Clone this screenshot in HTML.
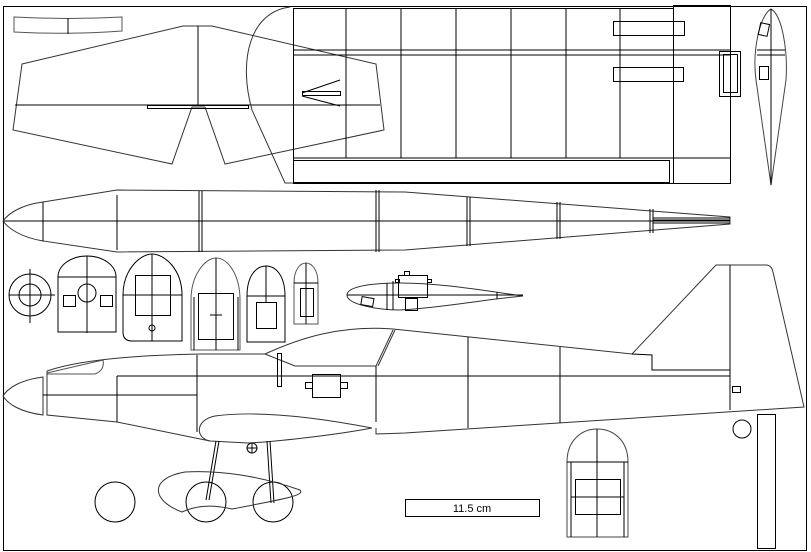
<!DOCTYPE html>
<html><head><meta charset="utf-8"><style>html,body{margin:0;padding:0;background:#fff}svg{display:block}</style></head><body>
<svg width="811" height="552" viewBox="0 0 811 552" xmlns="http://www.w3.org/2000/svg" fill="none" stroke="#000" stroke-width="1">
<rect x="3.5" y="6.5" width="803" height="544"/>
<!-- small top-left -->
<path d="M14,17 Q68,20 122,17 L122,31 Q68,35 14,32 Z" stroke="#555"/>
<line x1="68" y1="18" x2="68" y2="34"/>
<!-- wing -->
<path d="M22,64 L183,26 L212,26 L376,64 L384,130 L225,164 L205,107 L192,107 L172,164 L13,130 Z" stroke="#333"/>
<line x1="198" y1="26" x2="198" y2="106"/>
<line x1="15" y1="105" x2="380" y2="105"/>
<rect x="147.5" y="105.5" width="101" height="3"/>
<!-- big curve -->
<path d="M290,7 C250,12 238,60 252,110 L285,183 L293,183" stroke="#333"/>
<!-- panel -->
<rect x="293.5" y="8.5" width="380" height="175"/>
<rect x="673.5" y="5.5" width="57" height="178"/>
<line x1="293" y1="50" x2="730" y2="50"/><line x1="293" y1="55" x2="730" y2="55"/>
<line x1="293" y1="158" x2="730" y2="158"/>
<rect x="293.5" y="160.5" width="376" height="22"/>
<g><line x1="346" y1="8" x2="346" y2="158"/><line x1="401" y1="8" x2="401" y2="158"/><line x1="456" y1="8" x2="456" y2="158"/><line x1="511" y1="8" x2="511" y2="158"/><line x1="566" y1="8" x2="566" y2="158"/><line x1="620" y1="8" x2="620" y2="158"/></g>
<rect x="613.5" y="21.5" width="71" height="14"/><rect x="613.5" y="67.5" width="70" height="14"/>
<rect x="719.5" y="51.5" width="21" height="45"/><rect x="723.5" y="54.5" width="14" height="38"/>
<path d="M302,93 L340,80 M302,96 L340,106"/><rect x="302.5" y="91.5" width="38" height="4"/>
<!-- vertical airfoil -->
<path d="M771,9 C760,15 752,50 756,80 L771,185 L786,80 C788,50 782,15 771,9 Z" stroke="#444"/>
<line x1="771" y1="9" x2="771" y2="185"/>
<line x1="757" y1="50" x2="785" y2="50"/><line x1="757" y1="55" x2="785" y2="55"/>
<rect x="759.5" y="23.5" width="9" height="12" transform="rotate(12 764 29)"/>
<rect x="759.5" y="66.5" width="9" height="13"/>
<!-- top fuselage -->
<path d="M43,202 C20,205 8,214 3,221 C8,228 20,237 43,241" stroke="#333"/>
<path d="M43,202 L117,190 L405,192 L730,217 L730,224 L405,250 L117,252 L43,241 Z" stroke="#333"/>
<line x1="43" y1="202" x2="43" y2="241"/>
<line x1="3" y1="221" x2="730" y2="221"/>
<line x1="117" y1="195" x2="117" y2="250"/>
<line x1="199" y1="191" x2="199" y2="252"/><line x1="202" y1="191" x2="202" y2="252"/>
<line x1="376" y1="190" x2="376" y2="252"/><line x1="379" y1="190" x2="379" y2="252"/>
<line x1="467" y1="197" x2="467" y2="246"/><line x1="470" y1="197" x2="470" y2="246"/>
<line x1="557" y1="202" x2="557" y2="239"/><line x1="560" y1="202" x2="560" y2="239"/>
<line x1="650" y1="209" x2="650" y2="233"/><line x1="653" y1="209" x2="653" y2="233"/>
<line x1="653" y1="218" x2="730" y2="218"/><line x1="653" y1="220" x2="730" y2="220"/><line x1="653" y1="223" x2="730" y2="223"/>
<!-- target -->
<circle cx="30" cy="295" r="21"/><circle cx="30" cy="295" r="11"/>
<line x1="9" y1="295" x2="55" y2="295"/><line x1="30" y1="269" x2="30" y2="323"/>
<!-- former1 -->
<path d="M58,332 L58,277 A29,21 0 0 1 116,277 L116,332 Z"/>
<line x1="58" y1="277" x2="116" y2="277"/><line x1="87" y1="256" x2="87" y2="333"/>
<circle cx="87" cy="293" r="9"/>
<rect x="63.5" y="295.5" width="12" height="11"/><rect x="100.5" y="295.5" width="12" height="11"/>
<!-- former2 -->
<path d="M123,332 L123,295 C123,270 140,254 152,254 C165,254 182,270 182,295 L182,341 L132,341 Q123,341 123,332 Z"/>
<line x1="123" y1="295" x2="182" y2="295"/><line x1="152" y1="254" x2="152" y2="341"/>
<rect x="135.5" y="275.5" width="35" height="40"/><circle cx="152" cy="328" r="3"/>
<!-- former3 -->
<path d="M191,350 L191,300 C191,275 205,258 216,258 C228,258 240,275 240,300 L240,350 Z" stroke="#555"/>
<line x1="194" y1="297" x2="194" y2="350"/><line x1="238" y1="297" x2="238" y2="350"/>
<rect x="198.5" y="293.5" width="35" height="46"/><line x1="216" y1="258" x2="216" y2="350"/>
<line x1="210" y1="315" x2="222" y2="315"/>
<!-- former4 -->
<path d="M247,342 L247,296 C247,276 256,266 266,266 C276,266 285,276 285,296 L285,342 Z"/>
<line x1="247" y1="296" x2="285" y2="296"/><line x1="266" y1="266" x2="266" y2="302"/>
<rect x="256.5" y="302.5" width="20" height="26"/>
<!-- former5 -->
<path d="M294,324 L294,283 C294,270 300,263 306,263 C312,263 318,270 318,283 L318,324 Z" stroke="#555"/>
<line x1="294" y1="283" x2="318" y2="283"/><line x1="306" y1="263" x2="306" y2="324"/>
<rect x="300.5" y="288.5" width="13" height="28"/>
<!-- middle airfoil -->
<path d="M347,295 C347,285 380,283 400,283 C440,283 480,290 523,296 C480,300 440,308 400,310 C380,310 347,305 347,295 Z" stroke="#333"/>
<line x1="347" y1="295" x2="523" y2="295"/>
<rect x="398.5" y="275.5" width="29" height="22"/><rect x="404.5" y="271.5" width="5" height="4"/>
<rect x="395.5" y="279.5" width="4" height="3"/><rect x="427.5" y="279.5" width="4" height="3"/>
<line x1="387" y1="283" x2="387" y2="310"/><line x1="393" y1="281" x2="393" y2="310"/>
<rect x="405.5" y="298.5" width="12" height="12"/>
<rect x="361.5" y="297.5" width="12" height="8" transform="rotate(10 367 301)"/>
<line x1="497" y1="292" x2="497" y2="299"/>
<!-- side fuselage -->
<path d="M43,377 C20,380 8,388 3,396 C8,404 20,412 43,415 Z" stroke="#333"/>
<path d="M47,373 L103,360 Q105,370 95,374 L47,374" stroke="#555"/>
<path d="M47,371 Q90,356 200,354 L265,354 C300,338 340,325 393,329 L632,354 L716,265 L767,265 Q772,266 773,272 L804,407 L405,433 L376,434 L376,428" stroke="#333"/>
<path d="M47,371 L47,415 L117,422 L210,441" stroke="#333"/>
<path d="M265,354 L295,366 L376,366 L393,330 M378,366 L395,330" stroke="#333"/>
<path d="M632,354 L652,355 L652,370 L730,370"/>
<line x1="730" y1="265" x2="730" y2="410"/>
<line x1="117" y1="376" x2="730" y2="376"/>
<line x1="43" y1="395" x2="197" y2="395"/>
<line x1="117" y1="376" x2="117" y2="422"/>
<line x1="197" y1="355" x2="197" y2="432"/>
<line x1="376" y1="366" x2="376" y2="422"/>
<line x1="468" y1="337" x2="468" y2="428"/>
<line x1="560" y1="347" x2="560" y2="423"/>
<path d="M210,441 C195,438 195,420 215,416 C260,410 320,418 372,428 C330,436 270,442 248,443 Z" stroke="#333"/>
<rect x="277.5" y="353.5" width="4" height="33"/>
<rect x="312.5" y="374.5" width="28" height="23"/>
<rect x="305.5" y="382.5" width="7" height="6"/><rect x="340.5" y="382.5" width="7" height="6"/>
<rect x="732.5" y="386.5" width="8" height="6"/>
<circle cx="252" cy="448" r="5"/><line x1="247" y1="448" x2="257" y2="448"/><line x1="252" y1="443" x2="252" y2="453"/>
<!-- gear -->
<path d="M216,441 L206,500 M219,441 L209,500 M267,441 L271,503 M270,441 L274,503"/>
<circle cx="115" cy="502" r="20"/><circle cx="206" cy="502" r="20"/><circle cx="273" cy="502" r="20"/>
<path d="M182,512 C150,500 150,478 185,472 C220,470 260,476 300,490 C305,495 290,498 232,509 C210,504 195,506 182,512 Z" stroke="#333"/>
<!-- tail parts -->
<circle cx="742" cy="429" r="9"/>
<rect x="757.5" y="414.5" width="18" height="134"/>
<!-- bottom former -->
<path d="M567,537 L567,462 C567,440 582,429 597,429 C613,429 628,440 628,462 L628,537 Z" stroke="#444"/>
<line x1="567" y1="462" x2="628" y2="462"/>
<line x1="571" y1="462" x2="571" y2="537"/><line x1="624" y1="462" x2="624" y2="537"/>
<line x1="597" y1="429" x2="597" y2="537"/><line x1="571" y1="497" x2="624" y2="497"/>
<rect x="575.5" y="479.5" width="45" height="35"/>
<!-- scale -->
<rect x="405.5" y="499.5" width="134" height="17"/>
<text x="472" y="512" font-family="Liberation Sans, sans-serif" font-size="11" text-anchor="middle" fill="#000" stroke="none">11.5 cm</text>
</svg>
</body></html>
